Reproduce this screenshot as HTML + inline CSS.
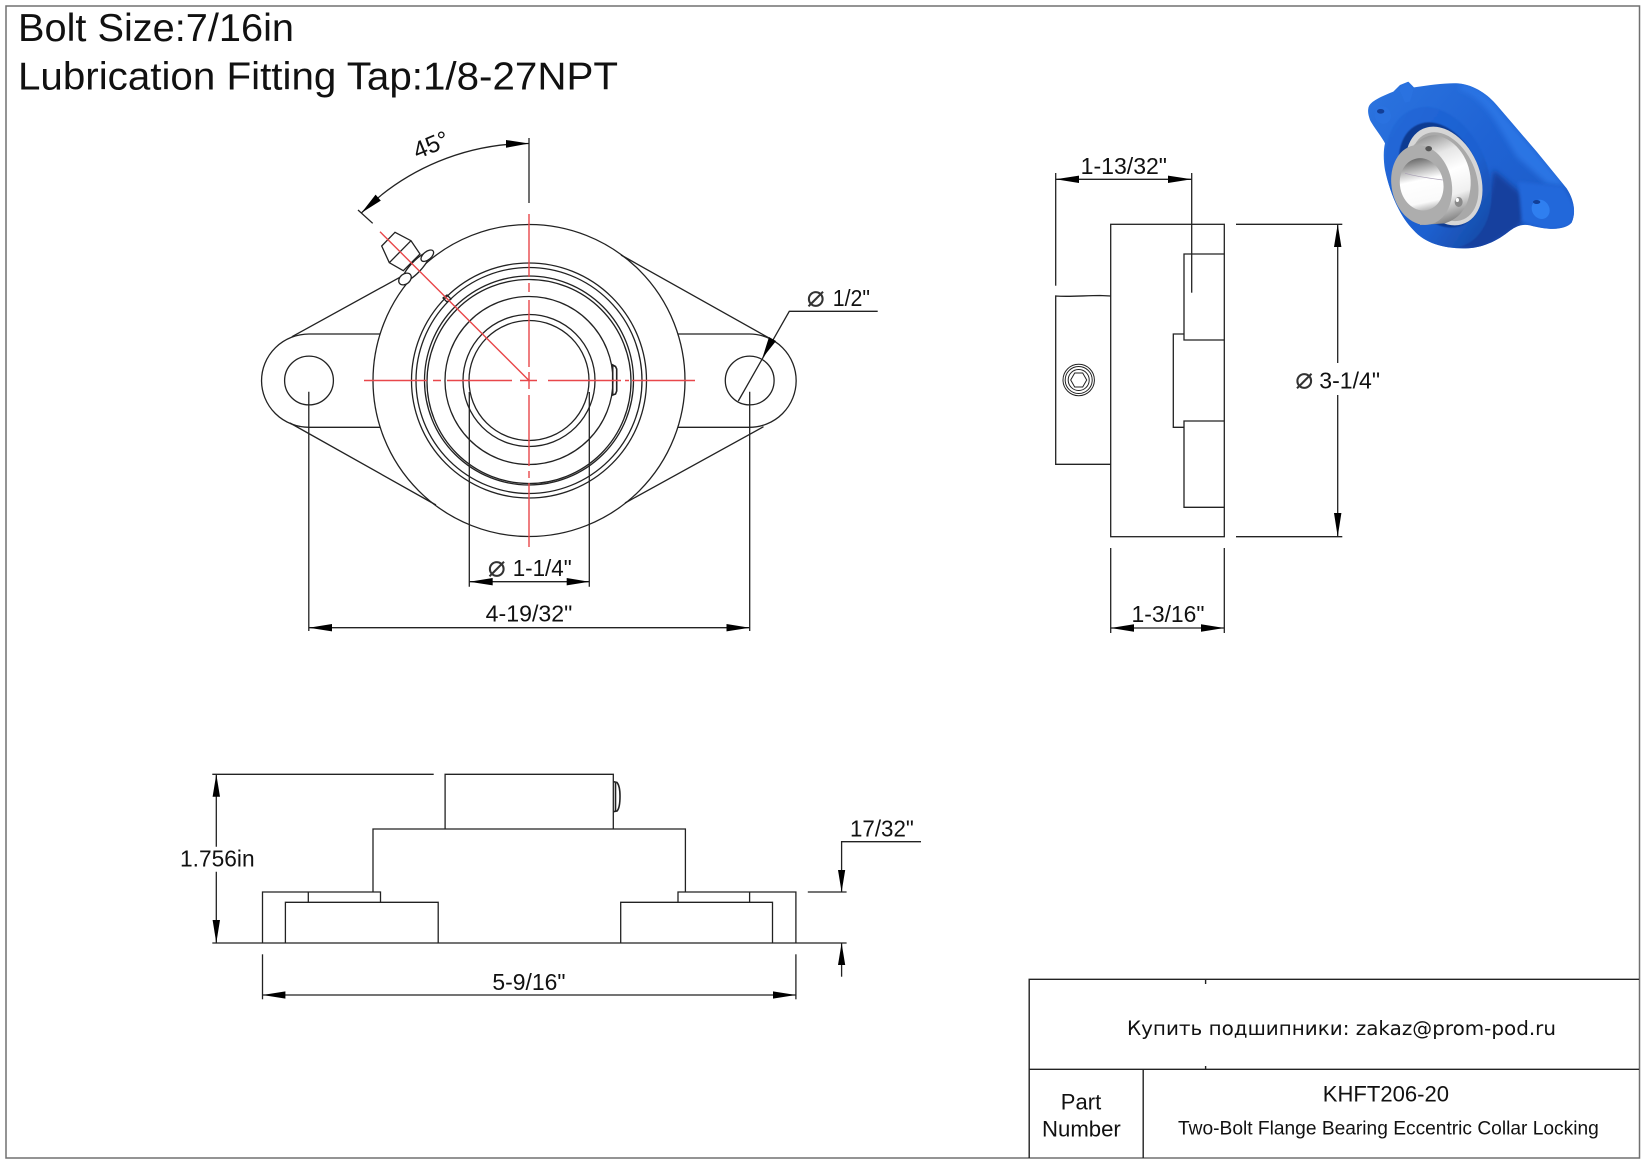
<!DOCTYPE html>
<html><head><meta charset="utf-8"><title>KHFT206-20</title>
<style>
html,body{margin:0;padding:0;background:#fff}
svg{display:block}
text{font-family:"Liberation Sans",Arial,sans-serif;fill:#111}
.d{font-size:23px}
.sym{font-family:"DejaVu Sans",sans-serif;font-size:30px;fill:#333}
.l{fill:none;stroke:#222;stroke-width:1.3}
.r{fill:none;stroke:#e8474a;stroke-width:1.4}
.a{fill:#000;stroke:none}
</style></head><body>
<svg width="1647" height="1165" viewBox="0 0 1647 1165" xmlns="http://www.w3.org/2000/svg">
<defs>
<linearGradient id="blue" gradientUnits="userSpaceOnUse" x1="100" y1="60" x2="620" y2="480"><stop offset="0" stop-color="#2a72de"/><stop offset=".5" stop-color="#1f63d4"/><stop offset="1" stop-color="#1d5cc8"/></linearGradient>
<linearGradient id="face" gradientUnits="userSpaceOnUse" x1="140" y1="130" x2="420" y2="520"><stop offset="0" stop-color="#2168d8"/><stop offset=".6" stop-color="#1e60d0"/><stop offset="1" stop-color="#15479f"/></linearGradient>
<linearGradient id="cyl" gradientUnits="userSpaceOnUse" x1="230" y1="200" x2="320" y2="450"><stop offset="0" stop-color="#9a9a9a"/><stop offset=".22" stop-color="#e6e6e6"/><stop offset=".45" stop-color="#ffffff"/><stop offset=".72" stop-color="#f0f0f0"/><stop offset="1" stop-color="#808080"/></linearGradient>
<linearGradient id="bore" x1="0" y1="0" x2="0" y2="1"><stop offset="0" stop-color="#6d6d6d"/><stop offset=".25" stop-color="#c4c4c4"/><stop offset=".42" stop-color="#fff"/><stop offset=".85" stop-color="#fafafa"/><stop offset="1" stop-color="#bbb"/></linearGradient>
<filter id="b" x="-20%" y="-20%" width="140%" height="140%"><feGaussianBlur stdDeviation="8"/></filter>
<filter id="s"><feGaussianBlur stdDeviation="1.5"/></filter>
<filter id="m" x="-20%" y="-20%" width="140%" height="140%"><feGaussianBlur stdDeviation="5"/></filter>
<clipPath id="bc"><path d="M55,115 C58,100 72,88 130,65 L150,45 L175,35 L192,52 C240,45 290,38 325,40 C375,45 415,75 440,105 L560,245 L650,355 C670,385 680,425 665,458 C645,480 600,482 540,466 C515,462 500,468 480,482 C440,515 390,537 340,535 C280,535 225,520 190,480 C150,440 120,370 105,300 C100,270 100,240 105,220 C95,200 70,170 60,150 C55,135 53,125 55,115 Z"/></clipPath>
</defs>
<rect width="1647" height="1165" fill="#fff"/>
<rect x="6" y="6" width="1633.5" height="1152" fill="none" stroke="#707070" stroke-width="1.5"/>

<text x="18" y="41" font-size="39" textLength="276" lengthAdjust="spacingAndGlyphs">Bolt Size:7/16in</text>
<text x="18" y="89.6" font-size="39" textLength="600" lengthAdjust="spacingAndGlyphs">Lubrication Fitting Tap:1/8-27NPT</text>

<!-- front view -->
<g class="l">
<circle cx="529" cy="380.5" r="156"/>
<circle cx="529" cy="380.5" r="117.5"/>
<circle cx="529" cy="380.5" r="113"/>
<circle cx="529" cy="380.5" r="104.5"/>
<circle cx="529" cy="381.5" r="102"/>
<circle cx="529" cy="380.5" r="84"/>
<circle cx="529" cy="380.5" r="66"/>
<circle cx="529" cy="380.5" r="60"/>
<circle cx="309" cy="380.5" r="24.4"/>
<circle cx="749.7" cy="380.5" r="24.4"/>
<path d="M380,334 L309,334 A47.5 46.65 0 0 0 309,427.3 L380,427.3"/>
<path d="M677.7,334 L749.5,334 A46.7 46.65 0 0 1 749.5,427.3 L677.7,427.3"/>
<path d="M292,336.7 L401,276.7"/>
<path d="M621,255 L769,338"/>
<path d="M290,423 L436,505"/>
<path d="M625,503 L763.5,426.7"/>
<path d="M612.7,365 L615.5,366.5 L616.7,369 L616.7,391 L615.5,394 L612.7,395 Z" stroke-width="1.6"/>
<path d="M443,298 L447,295 L451,299 L447,302 Z"/>
<!-- nipple -->
<path d="M395,232.3 L381.7,246 L389.3,262.7 L403.3,270.7 L420,254 L411,240.7 Z" fill="#fff"/>
<path d="M389.3,262.7 L411,240.7"/>
<ellipse cx="416" cy="267" rx="19" ry="5.5" transform="rotate(-47 416 267)" fill="#fff"/>
<ellipse cx="427.3" cy="255.7" rx="7.5" ry="4" transform="rotate(-40 427.3 255.7)" fill="#fff"/>
<ellipse cx="405" cy="279" rx="7" ry="5" transform="rotate(-40 405 279)" fill="#fff"/>
</g>
<g class="r">
<path d="M529,214V277M529,283V292M529,300V367M529,372V389M529,395V466M529,471V478M529,483V547"/>
<path d="M364,380.5H427M433,380.5H441M447,380.5H512M520,380.5H537M548,380.5H621M625,380.5H629M632,380.5H695"/>
<path d="M380,231.7 L529,380.5"/>
</g>
<!-- front dims -->
<g class="l">
<path d="M529,138V203"/>
<path d="M529,143.5 A237 237 0 0 0 361.4,212.9"/>
<path d="M358,210 L372.7,223.3"/>
<path d="M308.8,391.7V631"/>
<path d="M749.7,391.7V631"/>
<path d="M308.8,627.7H749.7"/>
<path d="M469.3,392V586.7"/>
<path d="M589.3,392V586.7"/>
<path d="M469.3,581.7H589.3"/>
<path d="M738.3,401 L789.3,311.3 H877.7"/>
</g>
<polygon class="a" points="529,143.5 506,140 506,147.8"/>
<polygon class="a" points="361.4,212.9 375.6,194.6 380.8,200.6"/>
<polygon class="a" points="308.8,627.7 332,624 332,631.4"/>
<polygon class="a" points="749.7,627.7 726.5,624 726.5,631.4"/>
<polygon class="a" points="469.3,581.7 492.7,578 492.7,585.4"/>
<polygon class="a" points="589.3,581.7 566.7,578 566.7,585.4"/>
<polygon class="a" points="762.3,358.3 769,337 776,341"/>
<text class="d" transform="translate(431,145) rotate(-22.5)" text-anchor="middle" y="8" style="font-size:24px">45°</text>
<text class="sym" x="487.8" y="576.3">⌀</text>
<text class="d" x="512.7" y="576" textLength="59" lengthAdjust="spacingAndGlyphs">1-1/4"</text>
<text class="d" x="485.7" y="621.7" textLength="86.6" lengthAdjust="spacingAndGlyphs">4-19/32"</text>
<text class="sym" x="806.8" y="306.3">⌀</text>
<text class="d" x="832.7" y="306" textLength="37.3" lengthAdjust="spacingAndGlyphs">1/2"</text>

<!-- side view -->
<g class="l">
<rect x="1110.7" y="224.3" width="113.6" height="312.4"/>
<path d="M1110.7,296 L1100,295.5 C1085,295.5 1070,297 1055.7,296 V464.3 H1110.7"/>
<path d="M1224.3,254 H1184 V340 H1224.3"/>
<path d="M1224.3,421 H1184 V507.3 H1224.3"/>
<path d="M1184,334 H1173.3 V427.3 H1184"/>
<circle cx="1078.7" cy="380" r="15.7" stroke-width="1"/>
<circle cx="1078.7" cy="380" r="13.5" stroke-width="1"/>
<circle cx="1078.7" cy="380" r="10.5" stroke-width="1"/>
<polygon points="1070.7,380 1074.7,373 1082.7,373 1086.7,380 1082.7,387 1074.7,387" stroke-width="1"/>
<path d="M1055.7,173V285.7"/>
<path d="M1191.7,173V292.7"/>
<path d="M1055.7,179.3H1191.7"/>
<path d="M1236,224.3H1342.3"/>
<path d="M1236,536.7H1342.3"/>
<path d="M1337.7,224.3V363M1337.7,395V536.7"/>
<path d="M1110.7,548V633"/>
<path d="M1224.3,548V633"/>
<path d="M1110.7,628H1224.3"/>
</g>
<polygon class="a" points="1055.7,179.3 1079,175.6 1079,183"/>
<polygon class="a" points="1191.7,179.3 1168,175.6 1168,183"/>
<polygon class="a" points="1337.7,224.3 1334,247 1341.4,247"/>
<polygon class="a" points="1337.7,536.7 1334,513 1341.4,513"/>
<polygon class="a" points="1110.7,628 1134,624.3 1134,631.7"/>
<polygon class="a" points="1224.3,628 1201,624.3 1201,631.7"/>
<text class="d" x="1080.7" y="174" textLength="86.3" lengthAdjust="spacingAndGlyphs">1-13/32"</text>
<text class="sym" x="1295.2" y="388.7">⌀</text>
<text class="d" x="1319.3" y="388.3" textLength="60.7" lengthAdjust="spacingAndGlyphs">3-1/4"</text>
<text class="d" x="1131.5" y="622" textLength="73" lengthAdjust="spacingAndGlyphs">1-3/16"</text>

<!-- bottom view -->
<g class="l">
<path d="M212.3,774.3H433.7"/>
<path d="M445.1,829 V774.3 H613.3 V829"/>
<path d="M613.3,781.7 L617,782.5 Q620,786 620,796 Q620,808 617,811 L613.3,811.7" stroke-width="1.6"/>
<path d="M615.5,783V811" stroke-width="1.6"/>
<path d="M373,892 V829 H685.4 V892"/>
<path d="M262.5,943 V892 H380.5 V902.3"/>
<path d="M308.3,892 V902.3"/>
<path d="M285.4,943 V902.3 H438.2 V943"/>
<path d="M212.3,943 H846.6"/>
<path d="M620.7,943 V902.3 H772.5 V943"/>
<path d="M678,902.3 V892 H795.9 V943"/>
<path d="M749.6,892 V902.3"/>
<path d="M807.8,892H846.6"/>
<path d="M921,841.7 H841.6 V892"/>
<path d="M841.6,943 V976.7"/>
<path d="M216.3,774.3 V846.7 M216.3,871.7 V943"/>
<path d="M262.5,954.3 V999.3"/>
<path d="M795.9,954.3 V999.3"/>
<path d="M262.5,995 H795.9"/>
</g>
<polygon class="a" points="841.6,892 838,870 845.2,870"/>
<polygon class="a" points="841.6,943 838,965 845.2,965"/>
<polygon class="a" points="216.3,774.3 212.6,796.7 220,796.7"/>
<polygon class="a" points="216.3,943 212.6,920 220,920"/>
<polygon class="a" points="262.5,995 285.4,991.4 285.4,998.6"/>
<polygon class="a" points="795.9,995 773,991.4 773,998.6"/>
<text class="d" x="180" y="866.7" textLength="74.6" lengthAdjust="spacingAndGlyphs">1.756in</text>
<text class="d" x="850" y="836.7" textLength="63.8" lengthAdjust="spacingAndGlyphs">17/32"</text>
<text class="d" x="492.4" y="990" textLength="73.1" lengthAdjust="spacingAndGlyphs">5-9/16"</text>

<!-- title block -->
<g fill="none" stroke="#222" stroke-width="1.4">
<path d="M1029.2,1158 V979.3 H1639"/>
<path d="M1029.2,1069.3 H1639"/>
<path d="M1143.2,1069.3 V1158"/>
<path d="M1205.6,979.3 V984"/>
<path d="M1205.6,1069.3 V1066"/>
</g>
<text x="1127" y="1035" font-size="19.5" style="font-family:'DejaVu Sans','Liberation Sans',sans-serif" textLength="429" lengthAdjust="spacingAndGlyphs">Купить подшипники: zakaz@prom-pod.ru</text>
<text x="1322.8" y="1101.7" font-size="22" textLength="126.2" lengthAdjust="spacingAndGlyphs">KHFT206-20</text>
<text x="1178" y="1134.3" font-size="19.5" textLength="420.8" lengthAdjust="spacingAndGlyphs">Two-Bolt Flange Bearing Eccentric Collar Locking</text>
<text x="1060.8" y="1109.3" font-size="22" textLength="40.4" lengthAdjust="spacingAndGlyphs">Part</text>
<text x="1042" y="1136.7" font-size="22" textLength="78.8" lengthAdjust="spacingAndGlyphs">Number</text>

<!-- 3D render -->
<g transform="translate(1350,70) scale(0.3333)">
<g clip-path="url(#bc)">
<rect x="40" y="20" width="660" height="530" fill="url(#blue)"/>
<path d="M330,40 C390,50 430,90 450,120 L650,350 L590,340 L500,260 L440,160 C410,110 370,70 330,60 Z" fill="#2c74e4" filter="url(#b)"/>
<path d="M430,300 C470,330 520,380 560,400 L500,480 L400,540 L300,540 C380,500 420,400 430,300 Z" fill="#123f9e" filter="url(#b)"/>
<path d="M505,335 L640,350 L680,420 L660,470 L590,480 L515,455 Z" fill="#2268da" filter="url(#m)"/>
<ellipse cx="265" cy="322" rx="150" ry="218" transform="rotate(-20 265 322)" fill="url(#face)" filter="url(#s)"/>
<ellipse cx="98" cy="135" rx="24" ry="27" transform="rotate(-30 98 135)" fill="#2a72e0"/>
<ellipse cx="92" cy="124" rx="11" ry="7" fill="#123f98"/>
<ellipse cx="572" cy="418" rx="26" ry="30" transform="rotate(-30 572 418)" fill="#2f7ff0"/>
<ellipse cx="560" cy="396" rx="11" ry="6" fill="#123f98"/>
<path d="M148,58 L170,38 L190,60 L180,95 L165,98 Z" fill="#2a72e0"/>
</g>
<ellipse cx="270" cy="315" rx="114" ry="165" transform="rotate(-24 270 315)" fill="#0f3a92" filter="url(#s)"/>
<ellipse cx="282" cy="318" rx="106" ry="155" transform="rotate(-24 282 318)" fill="#d6d6d6"/>
<ellipse cx="284" cy="320" rx="92" ry="140" transform="rotate(-24 284 320)" fill="#a9a9a9"/>
<path d="M185,232 C210,205 240,192 262,196 C320,210 365,270 362,345 C358,410 330,445 285,460 L210,465 Z" fill="url(#cyl)"/>
<ellipse cx="215" cy="345" rx="90" ry="121" transform="rotate(-12 215 345)" fill="#adadad"/>
<ellipse cx="215" cy="343" rx="65" ry="79" transform="rotate(-12 215 343)" fill="url(#bore)"/>
<path d="M165,310 C200,320 240,325 278,330" fill="none" stroke="#a9a0b5" stroke-width="2"/>
<ellipse cx="236" cy="236" rx="10" ry="8" fill="#555"/>
<ellipse cx="326" cy="396" rx="12" ry="15" fill="#8a8a8a"/>
<ellipse cx="322" cy="390" rx="5" ry="6" fill="#fff"/>
</g>
</svg>
</body></html>
